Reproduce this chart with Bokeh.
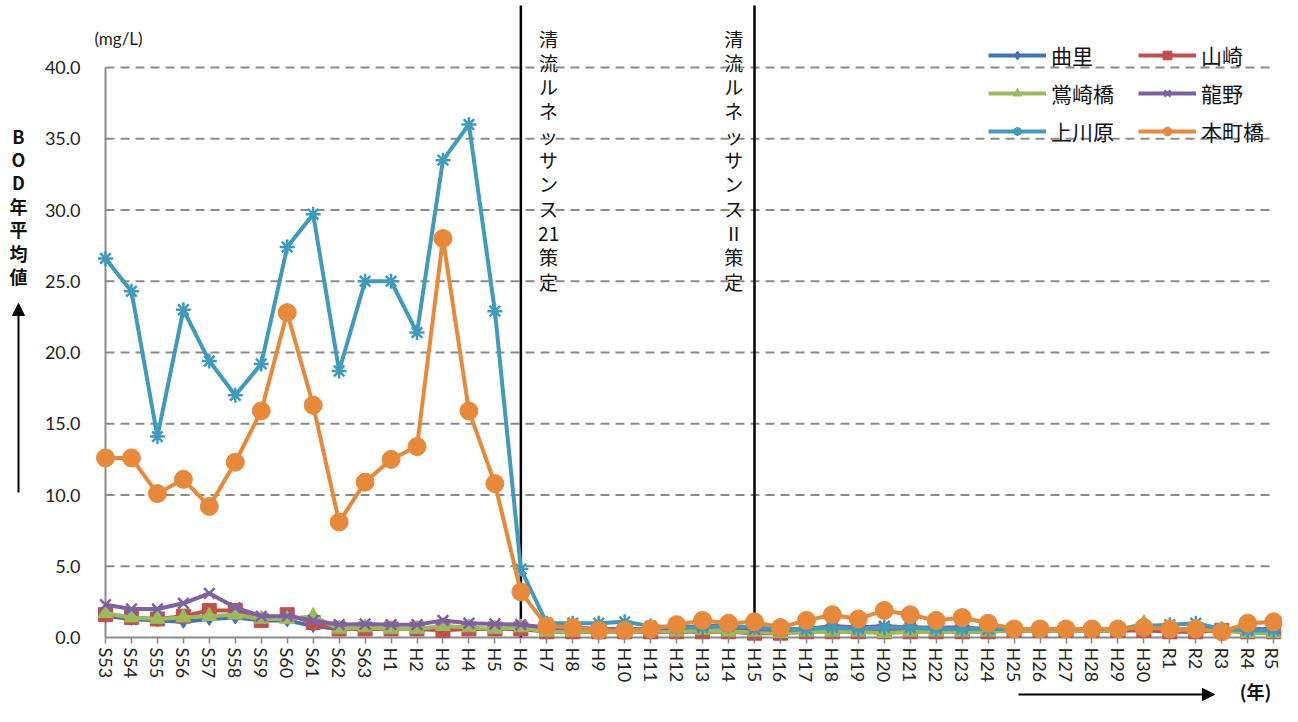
from bokeh.plotting import figure
from bokeh.models import (Range1d, FixedTicker, Arrow, NormalHead,
                          Legend, LegendItem, PrintfTickFormatter)
from bokeh.embed import file_html
from bokeh.resources import INLINE
from bokeh.core.properties import value

# ---------------- data ----------------
years = ["S53", "S54", "S55", "S56", "S57", "S58", "S59", "S60", "S61", "S62", "S63",
         "H1", "H2", "H3", "H4", "H5", "H6", "H7", "H8", "H9", "H10",
         "H11", "H12", "H13", "H14", "H15", "H16", "H17", "H18", "H19", "H20",
         "H21", "H22", "H23", "H24", "H25", "H26", "H27", "H28", "H29", "H30",
         "R1", "R2", "R3", "R4", "R5"]

magari = [1.5, 1.3, 1.2, 1.1, 1.3, 1.4, 1.2, 1.2, 0.8, 0.6, 0.6, 0.6, 0.6, 0.6, 0.6, 0.6, 0.6,
          0.5, 0.5, 0.5, 0.5, 0.5, 0.5, 0.5, 0.5, 0.5, 0.4, 0.5, 0.5, 0.5, 0.5,
          0.5, 0.5, 0.5, 0.5, 0.5, 0.5, 0.5, 0.5, 0.5, 0.6, 0.5, 0.5, 0.5, 0.4, 0.4]
yamasaki = [1.6, 1.4, 1.3, 1.5, 1.9, 1.9, 1.2, 1.6, 1.05, 0.6, 0.6, 0.6, 0.6, 0.5, 0.6, 0.6, 0.6,
            0.4, 0.4, 0.4, 0.4, 0.4, 0.4, 0.4, 0.4, 0.3, 0.3, 0.4, 0.4, 0.4, 0.4,
            0.4, 0.4, 0.4, 0.4, 0.5, 0.5, 0.5, 0.5, 0.5, 0.5, 0.4, 0.4, 0.5, 0.4, 0.4]
uguisuzaki = [1.7, 1.4, 1.3, 1.4, 1.5, 1.6, 1.3, 1.3, 1.5, 0.6, 0.7, 0.6, 0.6, 0.8, 0.7, 0.6, 0.7,
              0.4, 0.4, 0.4, 0.4, 0.5, 0.4, 0.5, 0.4, 0.4, 0.3, 0.4, 0.4, 0.4, 0.3,
              0.4, 0.4, 0.4, 0.4, 0.5, 0.5, 0.5, 0.5, 0.5, 1.0, 0.5, 0.6, 0.5, 0.3, 0.3]
tatsuno = [2.3, 2.0, 2.0, 2.4, 3.1, 2.1, 1.5, 1.5, 1.2, 0.9, 0.95, 0.9, 0.9, 1.2, 1.0, 0.95, 0.9,
           0.7, 0.7, 0.6, 0.6, 0.6, 0.7, 0.8, 0.8, 0.6, 0.5, 0.6, 0.8, 0.7, 0.8,
           0.7, 0.7, 0.7, 0.6, 0.6, 0.6, 0.6, 0.6, 0.6, 0.7, 0.6, 0.6, 0.6, 0.6, 0.6]
kamikawara = [26.6, 24.3, 14.1, 23.0, 19.4, 17.0, 19.2, 27.4, 29.7, 18.7, 25.0, 25.0, 21.4, 33.5, 36.0, 22.9, 4.8,
              1.0, 1.0, 1.0, 1.1, 0.8, 0.7, 0.7, 0.8, 0.7, 0.6, 0.6, 0.7, 0.6, 0.7,
              0.7, 0.6, 0.6, 0.6, 0.6, 0.6, 0.6, 0.6, 0.6, 0.8, 0.9, 1.0, 0.6, 0.5, 0.5]
honmachi = [12.6, 12.6, 10.1, 11.1, 9.2, 12.3, 15.9, 22.8, 16.3, 8.1, 10.9, 12.5, 13.4, 28.0, 15.9, 10.8, 3.2,
            0.8, 0.7, 0.5, 0.5, 0.6, 0.9, 1.2, 1.0, 1.1, 0.7, 1.2, 1.6, 1.3, 1.9,
            1.6, 1.2, 1.4, 1.0, 0.6, 0.6, 0.6, 0.6, 0.6, 0.7, 0.6, 0.6, 0.4, 1.0, 1.1]

series_names = ["曲里", "山崎", "鴬崎橋", "龍野", "上川原", "本町橋"]
series_values = [magari, yamasaki, uguisuzaki, tatsuno, kamikawara, honmachi]
series_colors = ["#3F72B8", "#C0504D", "#9BBB59", "#7E60A4", "#3E9BBD", "#E8893A"]
series_markers = ["diamond", "square", "triangle", "x", "asterisk", "circle"]
series_sizes = [13, 14, 15, 15, 15, 18]

y_ticks = [0, 5, 10, 15, 20, 25, 30, 35, 40]
events = [("H6", ["清", "流", "ル", "ネ", "ッ", "サ", "ン", "ス", "21", "策", "定"], 1.07),
          ("H15", ["清", "流", "ル", "ネ", "ッ", "サ", "ン", "ス", "Ⅱ", "策", "定"], -0.8)]

# ---------------- layout (frame covers the whole canvas) ----------------
W, H = 1282, 706
PX_X = 25.96          # px per category
PX_Y = 14.25          # px per mg/L
X0_PX, Y0_PX = 105, 637   # canvas position of (S53, 0)


def dx(px):
    return (px - X0_PX) / PX_X


def dy(py):
    return (Y0_PX - py) / PX_Y


p = figure(width=W, height=H, x_range=Range1d(dx(0), dx(W)), y_range=Range1d(dy(H), dy(0)),
           output_backend="svg", toolbar_location=None,
           min_border_left=0, min_border_right=0, min_border_top=0, min_border_bottom=0)
p.outline_line_color = None
p.xgrid.visible = False
p.ygrid.visible = False
p.background_fill_color = "white"
p.border_fill_color = "white"

xs = list(range(len(years)))
n = len(xs) - 1

# grid lines (dashed) & axis lines
gt = y_ticks[1:]
p.segment(x0=[0] * len(gt), y0=gt, x1=[n] * len(gt), y1=gt,
          line_color="#8a8a8a", line_width=2, line_dash="9 6")
p.segment(x0=[0], y0=[0], x1=[0], y1=[y_ticks[-1]], line_color="#8a8a8a", line_width=2)
p.segment(x0=[0], y0=[0], x1=[n], y1=[0], line_color="#8a8a8a", line_width=2)

# axes (fixed at the data origin)
yax = p.yaxis[0]
yax.fixed_location = 0
yax.ticker = FixedTicker(ticks=y_ticks)
yax.formatter = PrintfTickFormatter(format="%.1f")
yax.axis_line_color = None
yax.major_tick_line_color = None
yax.major_tick_out = 0
yax.major_tick_in = 0
yax.minor_tick_line_color = None
yax.major_label_standoff = 25
yax.major_label_text_font = "Lato"
yax.major_label_text_font_size = "18px"
yax.major_label_text_color = "#222222"

xax = p.xaxis[0]
xax.fixed_location = 0
xax.ticker = FixedTicker(ticks=xs)
xax.major_label_overrides = {i: y for i, y in enumerate(years)}
xax.major_label_orientation = "vertical"
xax.axis_line_color = None
xax.major_tick_line_color = "#8a8a8a"
xax.major_tick_line_width = 1.5
xax.major_tick_out = 6
xax.major_tick_in = 0
xax.minor_tick_line_color = None
xax.major_label_standoff = 4
xax.major_label_text_font = "Lato"
xax.major_label_text_font_size = "18px"
xax.major_label_text_color = "#222222"

# event lines and vertical texts
for ev, chars, off in events:
    ix = years.index(ev)
    p.segment(x0=[ix], y0=[0], x1=[ix], y1=[dy(5)], line_color="black", line_width=2.5)
    p.text(x=[ix + off], y=[dy(24)], text=["\n".join(chars)],
           text_font=value("Noto Sans CJK JP"), text_font_size="19px",
           text_align="center", text_baseline="top", text_line_height=0.9,
           text_color="#111111")

# series
items = {}
for name, vals, col, mk, sz in zip(series_names, series_values, series_colors,
                                   series_markers, series_sizes):
    r1 = p.line(xs, vals, line_color=col, line_width=4)
    if mk in ("x", "asterisk"):
        r2 = p.scatter(xs, vals, marker=mk, size=sz, line_color=col, line_width=2.5)
    else:
        r2 = p.scatter(xs, vals, marker=mk, size=sz, fill_color=col, line_color=col)
    items[name] = [r1, r2]

order = ["曲里", "鴬崎橋", "上川原", "山崎", "龍野", "本町橋"]
legend = Legend(items=[LegendItem(label=nm, renderers=items[nm]) for nm in order],
                ncols=2, location=(988, H - 146))
legend.label_text_font = "Noto Sans CJK JP"
legend.label_text_font_size = "21px"
legend.label_text_color = "#111111"
legend.label_width = 79
legend.glyph_width = 58
legend.glyph_height = 22
legend.spacing = 8
legend.label_standoff = 5
legend.border_line_color = None
legend.background_fill_alpha = 0
legend.padding = 0
legend.margin = 0
p.add_layout(legend)

# unit label
p.text(x=[dx(118)], y=[dy(38)], text=["(mg/L)"], text_font=value("Lato"),
       text_font_size="17px", text_align="center", text_baseline="middle",
       text_color="#222222")

# y-axis title (vertical) and arrow
p.text(x=[dx(18)], y=[dy(122)], text=["\n".join(["B", "O", "D", "年", "平", "均", "値"])],
       text_font=value("Noto Sans CJK JP"), text_font_size="18px", text_font_style="bold",
       text_align="center", text_baseline="top", text_line_height=0.9,
       text_color="#111111")
p.add_layout(Arrow(end=NormalHead(size=12, fill_color="black", line_color="black"),
                   x_start=dx(18), y_start=dy(492), x_end=dx(18), y_end=dy(303),
                   line_color="black", line_width=2))

# x arrow and (年)
p.add_layout(Arrow(end=NormalHead(size=12, fill_color="black", line_color="black"),
                   x_start=dx(1018), y_start=dy(694), x_end=dx(1214), y_end=dy(694),
                   line_color="black", line_width=2))
p.text(x=[dx(1255)], y=[dy(690)], text=["(年)"],
       text_font=value("Noto Sans CJK JP"), text_font_size="18px", text_font_style="bold",
       text_align="center", text_baseline="middle", text_color="#111111")

open("out.html", "w").write(file_html(p, INLINE))
